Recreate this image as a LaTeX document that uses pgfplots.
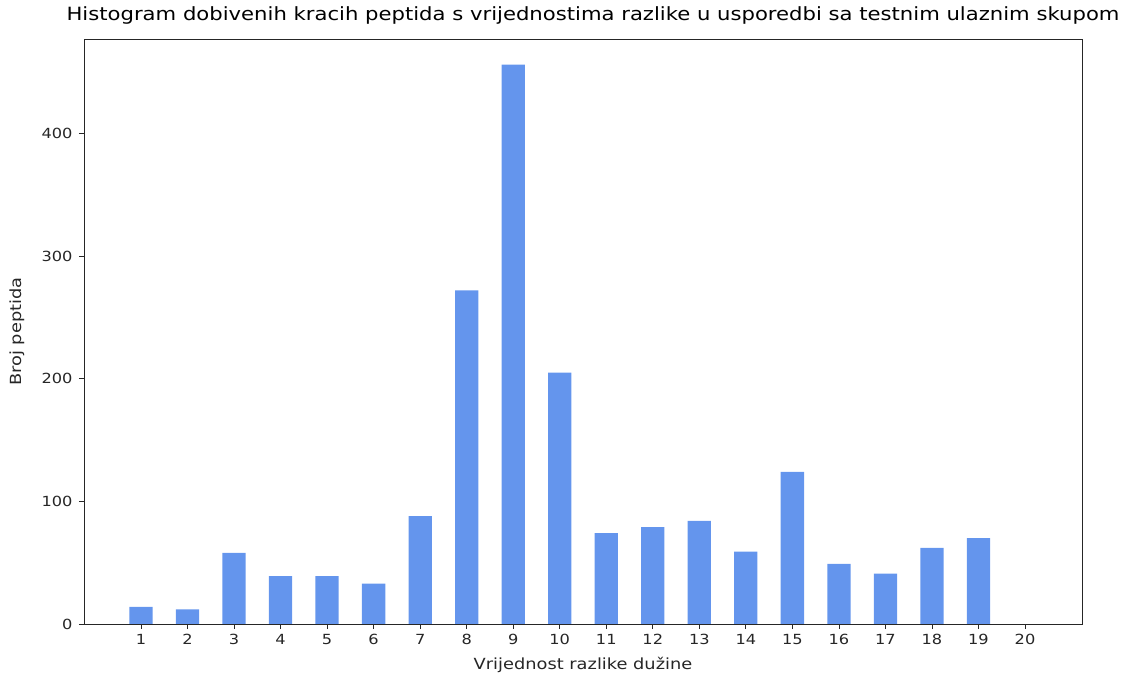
\documentclass[border=0pt]{standalone}
\usepackage{pgfplots}
\pgfplotsset{compat=1.18}
\usepackage{fontspec}
\setmainfont{DejaVu Sans}[FakeStretch=1.16]
\definecolor{barblue}{HTML}{6495ED}
\begin{document}
\begin{tikzpicture}
\begin{axis}[
  scale only axis,
  width=998bp, height=585bp,
  xmin=-0.225, xmax=21.225,
  ymin=0, ymax=477,
  xtick={1,...,20},
  ytick={0,100,200,300,400},
  tick align=outside,
  major tick length=5bp,
  tick style={black!85, line width=0.8bp},
  xtick pos=bottom, ytick pos=left,
  axis line style={black!85, line width=0.8bp},
  /pgf/number format/assume math mode=true,
  ticklabel style={font=\fontsize{14}{16}\selectfont, color=black!85},
  xticklabel style={yshift=-2bp},
  yticklabel style={xshift=-3bp},
  xlabel={Vrijednost razlike dužine},
  ylabel={Broj peptida},
  label style={font=\fontsize{15.4}{18}\selectfont, color=black!85},
  xlabel style={at={(axis description cs:0.5,-0.057)}, anchor=north, inner sep=0pt},
  ylabel style={at={(axis description cs:-0.0591,0.5)}, anchor=south, inner sep=0pt},
  title={Histogram dobivenih kracih peptida s vrijednostima razlike u usporedbi sa testnim ulaznim skupom},
  title style={font=\fontsize{18.3}{21}\selectfont, at={(axis description cs:0.5,1)}, anchor=base, inner sep=0pt, yshift=13bp, xshift=10bp},
]
\addplot[ybar, bar width=0.5, fill=barblue, draw=none] coordinates {
(1,14) (2,12) (3,58) (4,39) (5,39) (6,33) (7,88) (8,272) (9,456) (10,205)
(11,74) (12,79) (13,84) (14,59) (15,124) (16,49) (17,41) (18,62) (19,70) (20,0)
};
\end{axis}
\path (current axis.south west)++(-84bp,-51bp) coordinate (bbA);
\path (current axis.north east)++(44bp,39bp) coordinate (bbB);
\useasboundingbox (bbA) rectangle (bbB);
\end{tikzpicture}
\end{document}
